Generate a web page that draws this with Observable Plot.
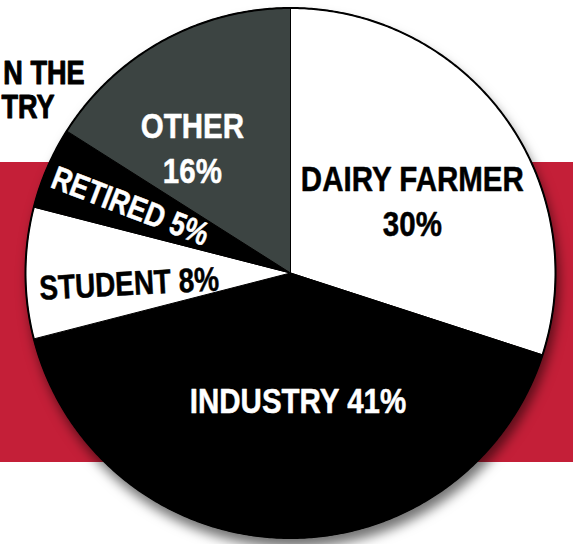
<!DOCTYPE html>
<html>
<head>
<meta charset="utf-8">
<script src="https://cdn.jsdelivr.net/npm/d3@7"></script>
<script src="https://cdn.jsdelivr.net/npm/@observablehq/plot@0.6"></script>
<style>
  html, body { margin: 0; padding: 0; background: #fff; }
  #wrap {
    width: 573px; height: 544px; overflow: hidden;
    background: linear-gradient(to bottom, #fff 0px, #fff 162px, #c41f38 162px, #c41f38 462px, #fff 462px, #fff 544px);
  }
</style>
</head>
<body>
<div id="wrap"></div>
<script>
// ---- data ----
const categories = ["DAIRY FARMER", "INDUSTRY", "STUDENT", "RETIRED", "OTHER"];
const shares = [30, 41, 8, 5, 16];
const headerLines = ["N THE", "TRY"];

// ---- styling / layout ----
const sliceColors = ["#ffffff", "#000000", "#ffffff", "#000000", "#3c4442"];
const FONT = "'Liberation Sans', Arial, sans-serif";
const NARROW = 0.82; // horizontal squeeze to mimic a condensed face
const W = 573, H = 544, R = 265, CX = 290, CY = 272.5;
// label placement relative to each slice's mid-angle (degrees), radius fraction, rotation
const labelLayout = {
  "DAIRY FARMER": {dAngle: 4.9,  r: 0.537, rotate: 0,  size: 36, color: "black", twoLines: true},
  "INDUSTRY":     {dAngle: -5.2, r: 0.476, rotate: 0,  size: 36, color: "white", twoLines: false},
  "STUDENT":      {dAngle: -3,   r: 0.61,  rotate: -3, size: 34, color: "black", twoLines: false},
  "RETIRED":      {dAngle: 0,    r: 0.655, rotate: 21, size: 33, color: "white", twoLines: false},
  "OTHER":        {dAngle: -9,   r: 0.604, rotate: 0,  size: 36, color: "white", twoLines: true}
};

const rows = categories.map((c, i) => ({category: c, share: shares[i]}));
const arcs = d3.pie().sort(null).value(d => d.share).startAngle(0).endAngle(2 * Math.PI)(rows);

// slice outlines as closed polygons in unit-radius data space
const polys = arcs.flatMap(s => {
  const n = Math.max(2, Math.ceil((s.endAngle - s.startAngle) / (Math.PI / 360)));
  const pts = [{category: s.data.category, x: 0, y: 0}];
  for (let i = 0; i <= n; i++) {
    const a = s.startAngle + (s.endAngle - s.startAngle) * i / n;
    pts.push({category: s.data.category, x: Math.sin(a), y: Math.cos(a)});
  }
  pts.push({category: s.data.category, x: 0, y: 0});
  return pts;
});

const rim = d3.range(0, 721).map(i => {
  const a = i / 720 * 2 * Math.PI;
  return {x: Math.sin(a), y: Math.cos(a)};
});

const labels = arcs.map(s => {
  const L = labelLayout[s.data.category];
  const mid = (s.startAngle + s.endAngle) / 2 + L.dAngle * Math.PI / 180;
  const text = L.twoLines ? `${s.data.category}\n${s.data.share}%` : `${s.data.category} ${s.data.share}%`;
  return {text, x: Math.sin(mid) * L.r, y: Math.cos(mid) * L.r, rotate: L.rotate, size: L.size, color: L.color};
});

const headerData = headerLines.map((t, i) => ({text: t, i}));
const headerRight = [84, 54];
const headerBase = [83, 117];

const labelStyle = {
  x: "x", y: "y", text: "text", rotate: "rotate", fontSize: "size",
  fontWeight: "bold", fontFamily: FONT, lineAnchor: "middle", lineHeight: 1.25, strokeWidth: 0.5
};
const headerStyle = {
  frameAnchor: "top-left", text: "text", fill: "black", stroke: "black", strokeWidth: 1,
  fontWeight: "bold", fontFamily: FONT, fontSize: 33, textAnchor: "end", lineAnchor: "bottom"
};

const chart = Plot.plot({
  width: W,
  height: H,
  margin: 0,
  style: {background: "transparent", fontFamily: FONT},
  x: {domain: [-CX / R, (W - CX) / R], axis: null},
  y: {domain: [-(H - CY) / R, CY / R], axis: null},
  color: {domain: categories, range: sliceColors},
  marks: [
    Plot.line(polys, {x: "x", y: "y", z: "category", fill: "category", stroke: "#000", strokeWidth: 1, strokeLinejoin: "miter"}),
    Plot.line(rim, {x: "x", y: "y", stroke: "#000", strokeWidth: 2, fill: "none"}),
    Plot.text(labels.filter(d => d.color === "white"), {...labelStyle, fill: "white", stroke: "white"}),
    Plot.text(labels.filter(d => d.color === "black"), {...labelStyle, fill: "black", stroke: "black"}),
    Plot.text(headerData, {...headerStyle, dx: headerRight[0], dy: headerBase[0], filter: d => d.i === 0}),
    Plot.text(headerData, {...headerStyle, dx: headerRight[1], dy: headerBase[1], filter: d => d.i === 1})
  ]
});

d3.select(chart).select('g[aria-label="line"]').style("filter", "drop-shadow(3px 9px 6px rgba(0,0,0,0.55))");
// condense every label horizontally around its own anchor
d3.select(chart).selectAll("text").each(function() {
  const el = this;
  const t = el.getAttribute("transform") || "";
  const xs = el.getAttribute("x");
  const x = xs != null && isFinite(+xs) ? +xs : 0;
  if (xs != null && isFinite(+xs)) el.removeAttribute("x");
  el.setAttribute("transform", `${t} translate(${x},0) scale(${NARROW},1)`);
});
document.getElementById("wrap").appendChild(chart);
</script>
</body>
</html>
